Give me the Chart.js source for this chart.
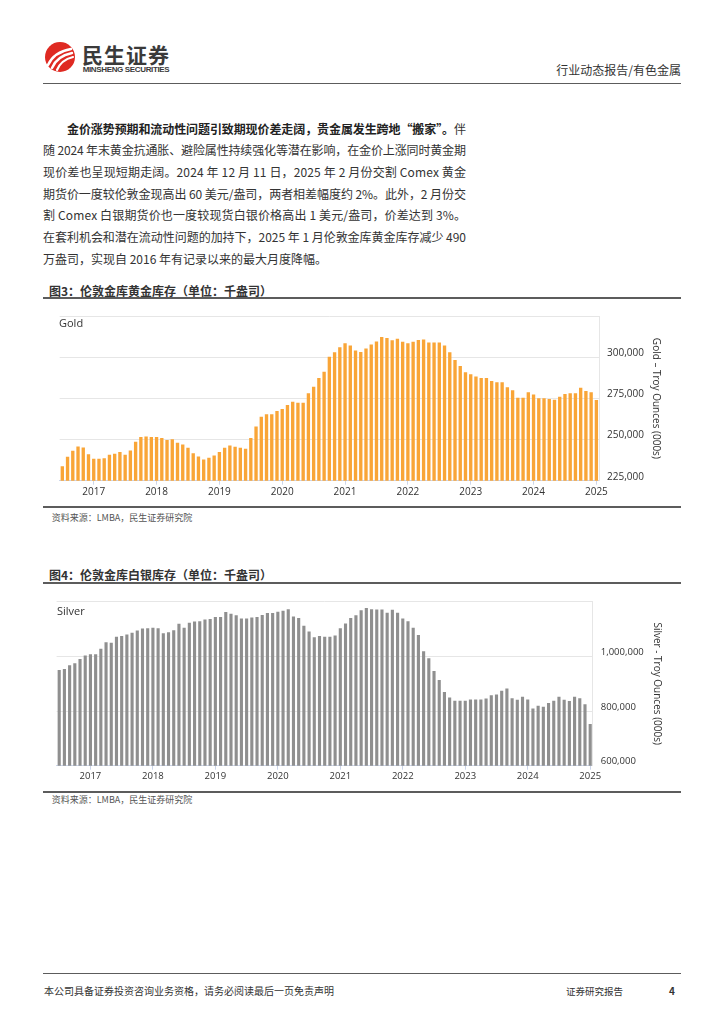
<!DOCTYPE html>
<html><head><meta charset="utf-8">
<script src="https://cdn.jsdelivr.net/npm/chart.js@4.4.1/dist/chart.umd.min.js"></script>
<style>
html,body{margin:0;padding:0;background:#fff;}
body{width:724px;height:1024px;position:relative;overflow:hidden;font-family:"Noto Sans CJK SC","Noto Sans",sans-serif;color:#333;}
.a{position:absolute;white-space:nowrap;}
.rule{position:absolute;left:43px;width:638px;background:#5c5c5c;}
.ln{position:absolute;left:43px;height:21.7px;line-height:21.7px;font-size:12px;white-space:nowrap;color:#333;}
.ftitle{position:absolute;left:49px;font-size:12px;font-weight:700;line-height:16px;color:#333;white-space:nowrap;}
.src{position:absolute;left:51.7px;font-size:9px;line-height:12px;color:#555;white-space:nowrap;}
canvas{position:absolute;left:43px;}
.series{position:absolute;font-family:"Open Sans",sans-serif;font-size:11px;line-height:14px;color:#333;z-index:2;}
</style></head>
<body>
<!-- header -->
<svg class="a" style="left:44px;top:41px" width="32" height="32" viewBox="0 0 32 32">
  <circle cx="16" cy="16" r="15" fill="#df2a22"/>
  <path d="M4 24 Q10 11 27 8" stroke="#fff" stroke-width="2.6" fill="none" stroke-linecap="round"/>
  <path d="M8 27 Q13 15 28 12" stroke="#fff" stroke-width="2.4" fill="none" stroke-linecap="round"/>
  <path d="M13 29 Q17 19 29 16" stroke="#fff" stroke-width="2.2" fill="none" stroke-linecap="round"/>
</svg>
<div class="a fit" data-w="87" style="left:82px;top:42px;font-size:21px;line-height:24px;font-weight:700;color:#3a3a3a;">民生证券</div>
<div class="a fit" data-w="87" style="left:82.7px;top:65.3px;font-size:8px;line-height:10px;font-weight:700;color:#3a3a3a;font-family:'Liberation Sans Narrow','Liberation Sans',sans-serif;">MINSHENG SECURITIES</div>
<div class="a" style="right:43px;top:62px;font-size:12px;line-height:16px;color:#333;">行业动态报告/有色金属</div>
<div class="rule" style="top:82.5px;height:1.5px;"></div>

<!-- body text -->
<div class="ln fit" data-w="399" style="left:67px;top:117.5px;"><b style="color:#222">金价涨势预期和流动性问题引致期现价差走阔，贵金属发生跨地“搬家”。</b>伴</div>
<div class="ln fit" data-w="423" style="top:139.2px;">随 2024 年末黄金抗通胀、避险属性持续强化等潜在影响，在金价上涨同时黄金期</div>
<div class="ln fit" data-w="423" style="top:160.9px;">现价差也呈现短期走阔。2024 年 12 月 11 日，2025 年 2 月份交割 Comex 黄金</div>
<div class="ln fit" data-w="423" style="top:182.6px;">期货价一度较伦敦金现高出 60 美元/盎司，两者相差幅度约 2%。此外，2 月份交</div>
<div class="ln fit" data-w="423" style="top:204.3px;">割 Comex 白银期货价也一度较现货白银价格高出 1 美元/盎司，价差达到 3%。</div>
<div class="ln fit" data-w="423" style="top:226px;">在套利机会和潜在流动性问题的加持下，2025 年 1 月伦敦金库黄金库存减少 490</div>
<div class="ln" style="top:247.7px;">万盎司，实现自 2016 年有记录以来的最大月度降幅。</div>

<!-- figure 3 -->
<div class="ftitle" style="top:283px;">图3：伦敦金库黄金库存（单位：千盎司）</div>
<div class="rule" style="top:296.7px;height:2px;"></div>
<canvas id="gold" width="638" height="200" style="top:302px;width:638px;height:200px;"></canvas>
<div class="series" style="left:59px;top:316px;">Gold</div>
<div class="rule" style="top:505.7px;height:2px;"></div>
<div class="src" style="top:512.3px;">资料来源：LMBA，民生证券研究院</div>

<!-- figure 4 -->
<div class="ftitle" style="top:567px;">图4：伦敦金库白银库存（单位：千盎司）</div>
<div class="rule" style="top:581.7px;height:2px;"></div>
<canvas id="silver" width="638" height="200" style="top:588px;width:638px;height:200px;"></canvas>
<div class="series" style="left:57px;top:604px;">Silver</div>
<div class="rule" style="top:790.7px;height:2px;"></div>
<div class="src" style="top:794px;">资料来源：LMBA，民生证券研究院</div>

<!-- footer -->
<div class="rule" style="top:972.5px;height:1.5px;"></div>
<div class="a" style="left:44px;top:984px;font-size:10px;line-height:14px;color:#333;">本公司具备证券投资咨询业务资格，请务必阅读最后一页免责声明</div>
<div class="a" style="left:566px;top:984px;font-size:9.5px;line-height:14px;color:#333;">证券研究报告</div>
<div class="a" style="left:669px;top:984px;font-size:10px;line-height:14px;font-weight:700;color:#333;">4</div>

<script>
// ---------- data ----------
const startYear = 2016, startMonth = 7, monthCount = 103; // Jul 2016 .. Jan 2025
const goldValues = [
  233800,239500,243200,245800,245200,241100,
  238300,238300,238700,240700,241300,242400,240700,243400,248700,251500,251900,251500,
  251500,250900,249700,250100,248100,247000,245000,241700,239700,237900,238900,240300,
  242400,245000,246400,245600,245000,244400,250900,257900,263800,265400,265400,267300,
  268500,270900,273000,272400,272400,278100,282000,287300,291200,300300,303000,306000,
  308500,307100,304000,303200,305200,307700,309500,312200,311600,310300,311200,309300,
  308500,309300,310500,310700,308900,308900,308900,307100,303000,298300,294600,290900,
  289700,288300,287300,287300,285600,284800,284800,281800,279900,275400,275400,278700,
  277300,275000,275000,274600,274200,276000,277700,278100,278100,281400,279500,278700,
  274000
];
const silverValues = [
  950200,953700,967900,975000,990400,1003400,
  1008100,1008100,1028200,1051900,1049500,1072000,1074400,1080300,1086200,1094500,1101600,1102800,
  1105100,1102800,1085000,1088600,1095700,1119300,1105100,1122900,1127600,1128800,1134700,1137100,
  1144200,1144200,1161900,1156000,1150100,1138300,1138300,1141800,1144200,1151300,1158400,1158400,
  1163100,1166700,1172600,1145400,1140700,1112300,1091000,1069700,1074400,1072000,1072000,1076700,
  1102800,1120500,1140700,1150100,1169000,1177300,1172600,1171400,1171400,1159600,1170200,1159600,
  1138300,1128800,1105100,1077900,1018800,992800,946600,913500,869700,849600,837800,837800,
  837800,842500,842500,842500,846100,857900,860300,874500,882700,847200,841300,852000,
  842500,809400,818900,815300,829500,837800,852000,841300,836600,852000,847200,824800,
  752600
];
const goldYTicks = [225000, 250000, 275000, 300000, 325000];
const goldYHidden = [325000];
const silverYTicks = [600000, 800000, 1000000, 1200000];
const silverYHidden = [1200000];
const goldAxisTitle = 'Gold – Troy Ounces (000s)';
const silverAxisTitle = 'Silver - Troy Ounces (000s)';

function buildMonths(y, m, n){
  const out = [];
  for (let i = 0; i < n; i++){
    out.push(y + '-' + String(m).padStart(2, '0'));
    m++; if (m > 12){ m = 1; y++; }
  }
  return out;
}
const months = buildMonths(startYear, startMonth, monthCount);
const isJan = i => months[i] && months[i].endsWith('-01');

Chart.defaults.font.family = "'Open Sans','DejaVu Sans',sans-serif";

function makeChart(id, values, o){
  return new Chart(document.getElementById(id), {
    type: 'bar',
    data: { labels: months, datasets: [{ data: values, backgroundColor: o.color, borderWidth: 0,
            barPercentage: o.barPct, categoryPercentage: 1 }] },
    options: {
      responsive: false, animation: false,
      layout: { padding: { left: o.padL, top: o.padT, right: 0, bottom: 0 } },
      plugins: { legend: { display: false }, tooltip: { enabled: false } },
      scales: {
        x: {
          type: 'category', offset: true,
          grid: { display: true, drawOnChartArea: false, drawTicks: true, tickLength: 4, offset: false,
                  color: c => isJan(c.index) ? '#ccd6eb' : 'rgba(0,0,0,0)', lineWidth: 1 },
          border: { display: true, color: '#ccd6eb', width: 1 },
          ticks: { autoSkip: false, maxRotation: 0, minRotation: 0, padding: o.xPad, color: '#333',
                   font: { size: o.xFont },
                   callback: (v, i) => isJan(i) ? months[i].slice(0, 4) : '' },
          afterFit: s => { s.height = o.xH; }
        },
        y: {
          position: 'right', min: o.ticks[0], max: o.ticks[o.ticks.length - 1],
          afterBuildTicks: s => { s.ticks = o.ticks.map(v => ({ value: v })); },
          grid: { color: c => (c.tick && c.tick.value === o.ticks[0]) ? 'rgba(0,0,0,0)' : '#e6e6e6',
                  drawTicks: false, lineWidth: 1 },
          border: { display: true, color: '#e6e6e6', width: 1 },
          ticks: { padding: 8, color: '#333', font: { size: o.yFont }, labelOffset: -4,
                   callback: v => o.hidden.includes(v) ? '' : Number(v).toLocaleString('en-US') },
          title: { display: true, text: o.title, color: '#333', font: { size: 10 },
                   padding: { top: o.titlePad, bottom: 0 } },
          afterFit: s => { s.width = o.yW; }
        }
      }
    }
  });
}

makeChart('gold', goldValues, {
  color: '#f9a537', barPct: 0.64, padL: 16.7, padT: 8, xH: 21.3, xPad: 1.3, xFont: 10,
  ticks: goldYTicks, hidden: goldYHidden, yFont: 10, title: goldAxisTitle, titlePad: 19, yW: 82
});
makeChart('silver', silverValues, {
  color: '#8f8f8f', barPct: 0.6, padL: 13.6, padT: 8.8, xH: 22.3, xPad: 1.3, xFont: 9.5,
  ticks: silverYTicks, hidden: silverYHidden, yFont: 9.5, title: silverAxisTitle, titlePad: 18.3, yW: 88.2
});

// fit justified text lines to their measured widths
function fitAll(){
  document.querySelectorAll('.fit').forEach(el => {
    el.style.letterSpacing = '0px';
    const r = document.createRange(); r.selectNodeContents(el);
    const w = r.getBoundingClientRect().width;
    const n = [...el.textContent].length;
    const target = parseFloat(el.dataset.w);
    if (n > 1) el.style.letterSpacing = ((target - w) / (n - 1)) + 'px';
  });
}
fitAll();
if (document.fonts && document.fonts.ready) document.fonts.ready.then(fitAll);
</script>
</body></html>
